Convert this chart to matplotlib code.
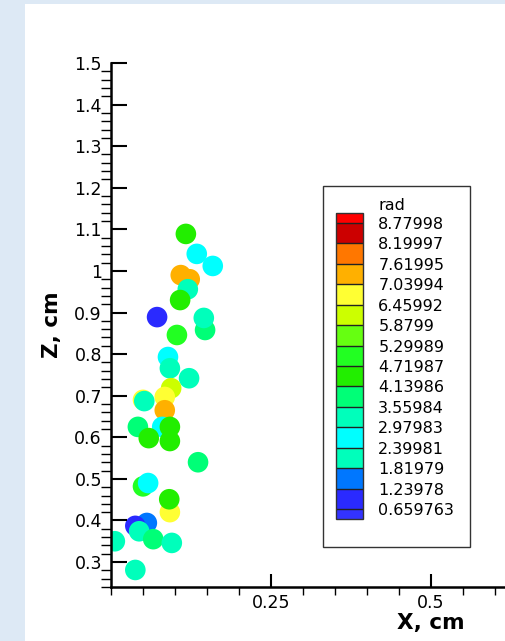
import matplotlib
matplotlib.use('Agg')
import matplotlib.pyplot as plt
from matplotlib.colors import ListedColormap, BoundaryNorm
from matplotlib.patches import Rectangle
from matplotlib.ticker import MultipleLocator, FixedLocator, FormatStrFormatter

# points, in drawing order (later ones sit on top)
x_cm = [0.117, 0.134, 0.159, 0.123, 0.109, 0.120, 0.108, 0.072, 0.147, 0.145,
        0.103, 0.089, 0.092, 0.122, 0.094, 0.084, 0.050, 0.052, 0.084, 0.080,
        0.092, 0.042, 0.059, 0.092, 0.136, 0.050, 0.058, 0.092, 0.091, 0.056,
        0.038, 0.044, 0.066, 0.095, 0.006, 0.038]
z_cm = [1.089, 1.041, 1.012, 0.980, 0.990, 0.956, 0.930, 0.889, 0.858, 0.887,
        0.846, 0.793, 0.766, 0.742, 0.718, 0.697, 0.690, 0.687, 0.665, 0.625,
        0.625, 0.625, 0.598, 0.591, 0.540, 0.482, 0.490, 0.420, 0.451, 0.394,
        0.387, 0.374, 0.355, 0.346, 0.350, 0.281]
rad = [4.4, 2.7, 2.7, 7.3, 7.3, 3.2, 4.4, 0.9, 3.8, 3.2,
       4.9, 2.7, 3.2, 3.2, 6.2, 6.7, 6.7, 3.2, 7.3, 2.7,
       4.4, 3.8, 4.4, 4.4, 3.8, 4.9, 2.7, 6.7, 4.4, 1.5,
       0.9, 3.2, 3.8, 3.2, 3.2, 3.2]

levels = [0.659763, 1.23978, 1.81979, 2.39981, 2.97983, 3.55984, 4.13986,
          4.71987, 5.29989, 5.8799, 6.45992, 7.03994, 7.61995, 8.19997, 8.77998]
level_labels = ['0.659763', '1.23978', '1.81979', '2.39981', '2.97983',
                '3.55984', '4.13986', '4.71987', '5.29989', '5.8799',
                '6.45992', '7.03994', '7.61995', '8.19997', '8.77998']
band_colors = ['#2a2aff', '#0077ff', '#00ffbb', '#00ffff', '#00ffbb',
               '#00ff77', '#22ee00', '#22ff22', '#66ff11', '#ccff00',
               '#ffff33', '#ffb000', '#ff7700', '#cc0000']
under_color = '#3333ff'
over_color = '#ff0000'

W, H = 505, 641
fig = plt.figure(figsize=(W / 100, H / 100), dpi=100, facecolor='#dde9f5')
# white panel
fig.patches.append(Rectangle((25 / W, 0), 1, 637 / H, transform=fig.transFigure,
                             facecolor='white', edgecolor='none', zorder=-2))
# legend frame
fig.patches.append(Rectangle((323 / W, 1 - 547 / H), 147 / W, 361 / H,
                             transform=fig.transFigure, facecolor='none',
                             edgecolor='#333333', linewidth=1, zorder=-1))

ax = fig.add_axes([111 / W, 54 / H, 640 / W, 524 / H])
ax.set_facecolor('none')

cmap = ListedColormap(band_colors).with_extremes(under=under_color, over=over_color)
norm = BoundaryNorm(levels, cmap.N)
sc = ax.scatter(x_cm, z_cm, c=rad, cmap=cmap, norm=norm, s=220, linewidths=0)

ax.set_xlim(0, 1)
ax.set_ylim(0.24, 1.5)
for s in ['top', 'right']:
    ax.spines[s].set_visible(False)
for s in ['left', 'bottom']:
    ax.spines[s].set_linewidth(1.8)

# only the labels that fit in the picture
ax.xaxis.set_major_locator(FixedLocator([0.25, 0.5]))
ax.xaxis.set_minor_locator(MultipleLocator(0.05))
ax.yaxis.set_major_locator(MultipleLocator(0.1))
ax.yaxis.set_minor_locator(MultipleLocator(0.02))
ax.xaxis.set_major_formatter(FormatStrFormatter('%g'))
ax.yaxis.set_major_formatter(FormatStrFormatter('%g'))
ax.tick_params(direction='in', labelsize=12.5)
ax.tick_params(axis='y', which='major', length=11.5, width=1.5, pad=6.5)
ax.tick_params(axis='y', which='minor', length=7, width=1)
ax.tick_params(axis='x', which='major', length=9.5, width=1.5, pad=5)
ax.tick_params(axis='x', which='minor', length=6, width=1)

ax.set_xlabel('X, cm', fontsize=15.5, fontweight='bold', labelpad=1)
ax.set_ylabel('Z, cm', fontsize=15.5, fontweight='bold', labelpad=9)

cax = fig.add_axes([336 / W, 122 / H, 27 / W, 306 / H])
cb = fig.colorbar(sc, cax=cax, extend='both', extendrect=True, extendfrac=0.035,
                  drawedges=True, ticks=levels)
cb.ax.set_yticklabels(level_labels)
cb.ax.tick_params(length=0, pad=11, labelsize=11.5)
cb.outline.set_edgecolor('#333333')
cb.outline.set_linewidth(1)
cb.dividers.set_color('#222222')
cb.dividers.set_linewidth(1)
fig.text(378 / W, 1 - 205 / H, 'rad', fontsize=11.5, va='center')

fig.savefig('out.png', dpi=100, facecolor=fig.get_facecolor())
